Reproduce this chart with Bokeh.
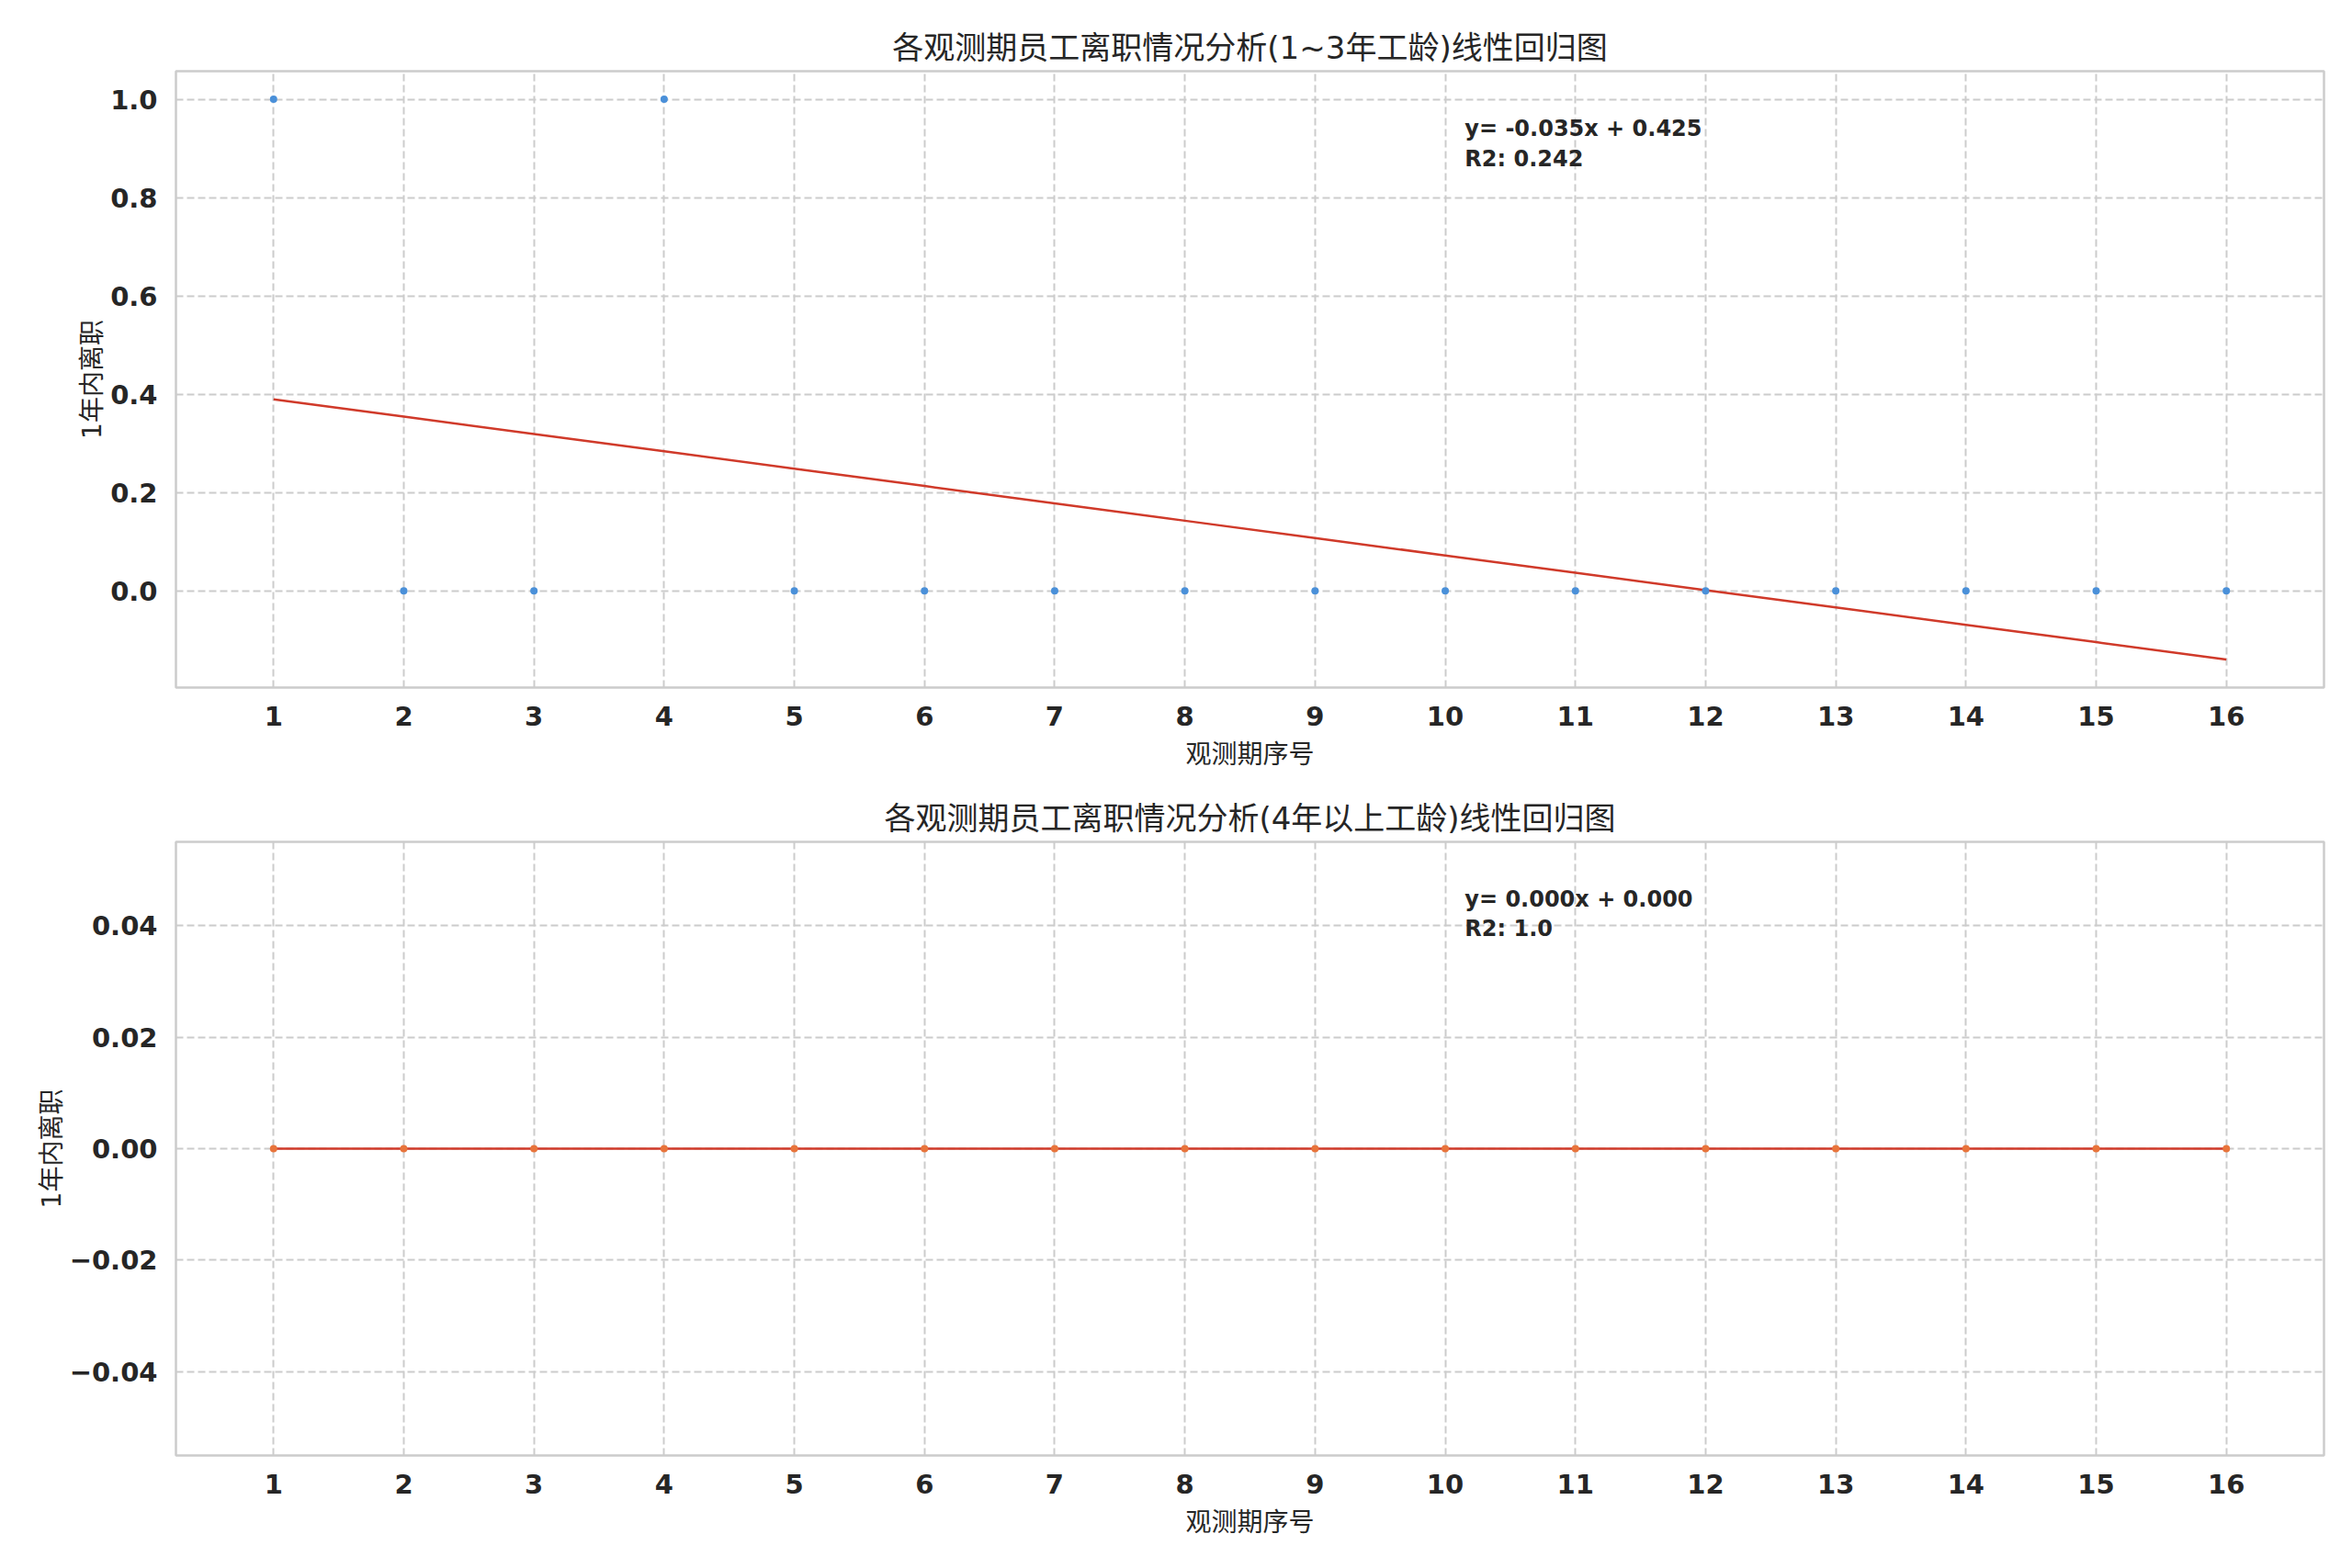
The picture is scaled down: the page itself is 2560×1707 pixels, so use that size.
import numpy as np
from bokeh.plotting import figure
from bokeh.models import Range1d, FixedTicker, Label
from bokeh.layouts import column
from bokeh.embed import file_html
from bokeh.resources import INLINE

# ---------------- data ----------------
periods = list(range(1, 17))
short_tenure = [1, 0, 0, 1, 0, 0, 0, 0, 0, 0, 0, 0, 0, 0, 0, 0]
long_tenure = [0, 0, 0, 0, 0, 0, 0, 0, 0, 0, 0, 0, 0, 0, 0, 0]

x_ticks = list(range(1, 17))
y_ticks_top = [0.0, 0.2, 0.4, 0.6, 0.8, 1.0]
y_labels_top = ["0.0", "0.2", "0.4", "0.6", "0.8", "1.0"]
y_ticks_bottom = [-0.04, -0.02, 0.0, 0.02, 0.04]
y_labels_bottom = ["\u22120.04", "\u22120.02", "0.00", "0.02", "0.04"]

title_top = "各观测期员工离职情况分析(1~3年工龄)线性回归图"
title_bottom = "各观测期员工离职情况分析(4年以上工龄)线性回归图"
x_label = "观测期序号"
y_label = "1年内离职"

# ---------------- styles ----------------
TEXT = "#262626"
GRID = "#cccccc"
CJK_FONT = "DejaVu Sans, Noto Sans CJK SC"


def fit(x, y):
    x = np.asarray(x, float)
    y = np.asarray(y, float)
    slope, intercept = np.polyfit(x, y, 1)
    slope += 0.0
    intercept += 0.0
    pred = slope * x + intercept
    ss_tot = np.sum((y - y.mean()) ** 2)
    ss_res = np.sum((y - pred) ** 2)
    r2 = 1.0 if ss_tot == 0 else 1 - ss_res / ss_tot
    return slope, intercept, pred, r2


def mpl_range(vals):
    lo, hi = min(vals), max(vals)
    if lo == hi:
        lo, hi = lo - 0.05, hi + 0.05
    m = 0.05 * (hi - lo)
    return lo - m, hi + m


def make_plot(y, title, yticks, ylabels, dot_color, height, b_top, b_bottom):
    slope, intercept, pred, r2 = fit(periods, y)
    x0, x1 = mpl_range(periods)
    y0, y1 = mpl_range(list(y) + list(pred))
    p = figure(width=2552, height=height, output_backend="svg", toolbar_location=None,
               x_range=Range1d(x0, x1), y_range=Range1d(y0, y1),
               min_border_left=191, min_border_right=23,
               min_border_top=b_top, min_border_bottom=b_bottom)
    p.background_fill_color = "white"
    p.border_fill_color = "white"
    p.outline_line_color = GRID
    p.outline_line_width = 2.5

    p.title.text = title
    p.title.align = "center"
    p.title.text_font = CJK_FONT
    p.title.text_font_size = "34px"
    p.title.text_font_style = "normal"
    p.title.text_color = TEXT
    p.title.standoff = 12

    p.xaxis.ticker = FixedTicker(ticks=x_ticks)
    p.yaxis.ticker = FixedTicker(ticks=yticks)
    p.yaxis.major_label_overrides = {t: l for t, l in zip(yticks, ylabels)}
    for ax in (p.xaxis, p.yaxis):
        ax.axis_line_color = None
        ax.major_tick_line_color = None
        ax.minor_tick_line_color = None
        ax.major_tick_out = 0
        ax.major_tick_in = 0
        ax.major_label_text_font = "DejaVu Sans"
        ax.major_label_text_font_style = "bold"
        ax.major_label_text_font_size = "29px"
        ax.major_label_text_color = TEXT
        ax.axis_label_text_font = CJK_FONT
        ax.axis_label_text_font_size = "28px"
        ax.axis_label_text_font_style = "normal"
        ax.axis_label_text_color = TEXT
    p.xaxis.major_label_standoff = 20
    p.yaxis.major_label_standoff = 20
    p.xaxis.axis_label = x_label
    p.yaxis.axis_label = y_label
    p.xaxis.axis_label_standoff = 12
    p.yaxis.axis_label_standoff = 0

    for g in (p.xgrid, p.ygrid):
        g.grid_line_color = GRID
        g.grid_line_width = 2
        g.grid_line_dash = "8 4"
    p.xgrid.ticker = FixedTicker(ticks=x_ticks)
    p.ygrid.ticker = FixedTicker(ticks=yticks)

    p.line(periods, list(pred), line_color="#d03a2a", line_width=2.5)
    p.scatter(periods, y, size=8, fill_color=dot_color, line_color=None)

    tx = x0 + 0.6 * (x1 - x0)
    eq = f"y= {slope:.3f}x + {intercept:.3f}"
    r2txt = f"R2: {round(float(r2), 3)}"
    for txt, fy in ((eq, 0.907), (r2txt, 0.858)):
        p.add_layout(Label(x=tx, y=y0 + fy * (y1 - y0), text=txt,
                           text_font="DejaVu Sans", text_font_style="bold",
                           text_font_size="24px", text_color=TEXT,
                           text_baseline="alphabetic", text_align="left"))
    return p


p1 = make_plot(short_tenure, title_top, y_ticks_top, y_labels_top, "#4a90d9", 840, 77, 92)
p2 = make_plot(long_tenure, title_bottom, y_ticks_bottom, y_labels_bottom, "#e8743b", 859, 76, 115)

layout = column(p1, p2)
open("out.html", "w").write(file_html(layout, INLINE))
